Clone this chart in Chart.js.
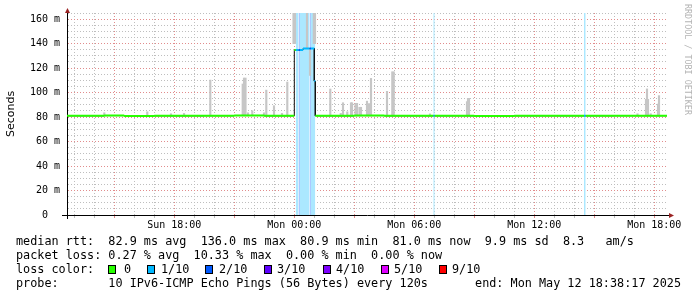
<!DOCTYPE html>
<html><head><meta charset="utf-8">
<script src="https://cdn.jsdelivr.net/npm/chart.js@4.4.1/dist/chart.umd.min.js"></script>
<style>
html,body{margin:0;padding:0;background:#fff;width:697px;height:297px;overflow:hidden}
#wrap{position:relative;width:697px;height:297px}
canvas{position:absolute;left:0;top:0}
.t{position:absolute;font-family:'DejaVu Sans Mono',monospace;font-size:11.8px;line-height:14px;white-space:pre;color:#000}
.box{position:absolute;width:6px;height:7px;border:1px solid #000}
#rrd{position:absolute;left:683px;top:4px;writing-mode:vertical-rl;font-family:'DejaVu Sans Mono',monospace;font-size:8.4px;color:#b4b4b4;white-space:pre;line-height:10px}
</style></head><body>
<div id="wrap">
<canvas id="c" width="697" height="297"></canvas>
<div id="rrd">RRDTOOL / TOBI OETIKER</div>
<div class="t" style="left:16px;top:234px">median rtt:  82.9 ms avg  136.0 ms max  80.9 ms min  81.0 ms now  9.9 ms sd  8.3   am/s</div>
<div class="t" style="left:16px;top:248px">packet loss: 0.27 % avg  10.33 % max  0.00 % min  0.00 % now</div>
<div class="t" style="left:16px;top:262px">loss color:</div>
<div class="t" style="left:16px;top:276px">probe:       10 IPv6-ICMP Echo Pings (56 Bytes) every 120s</div>
<div class="t" style="right:16px;top:276px">end: Mon May 12 18:38:17 2025</div>
<div id="lossLegend"></div>
</div>
<script>
// ---- time axis (hours since Sun 00:00) ----
const xStart = 12.638, xEnd = 42.638;
const xGridHours = [13,14,15,16,17,18,19,20,21,22,23,24,25,26,27,28,29,30,31,32,33,34,35,36,37,38,39,40,41,42];
const xTickHours = [18,24,30,36,42];
const xTickLabels = ['Sun 18:00','Mon 00:00','Mon 06:00','Mon 12:00','Mon 18:00'];
// ---- value axis (ms) ----
const yMax = 165;
const yGridValues = [0,5,10,15,20,25,30,35,40,45,50,55,60,65,70,75,80,85,90,95,100,105,110,115,120,125,130,135,140,145,150,155,160,165];
const yTickValues = [0,20,40,60,80,100,120,140,160];
const yTickLabels = ['0  ','20 m','40 m','60 m','80 m','100 m','120 m','140 m','160 m'];

// ---- loss levels ----
const lossLevels = [0,1,2,3,4,5,9];
const lossNames  = ['0','1/10','2/10','3/10','4/10','5/10','9/10'];
const lossColors = ['#26ff00','#00b8ff','#0059ff','#5e00ff','#7e00ff','#dd00ff','#ff0000'];

// ---- median rtt segments (start hour, ms, loss tenths) ----
const medStart = [12.638,14.5,15.5,17.0,19.5,21.0,22.5,24.003,24.073,24.213,24.288,24.438,24.763,24.838,25.003,25.053,27.0,28.5,30.953,31.023,33.0,35.0,38.488,38.573,40.0];
const medValue = [81.0,81.2,80.9,81.0,81.1,81.3,81.0,134.7,134.7,134.7,134.7,136.0,136.0,136.0,109.4,81.0,81.2,81.0,81.0,81.0,80.9,81.0,81.0,81.0,81.1];
const medLoss  = [0,0,0,0,0,0,0,0,1,2,1,1,2,1,1,0,0,0,1,0,0,0,1,0,0];

// ---- packet loss intervals ----
const lossStart  = [24.073,24.213,24.288,24.763,24.838,30.953,38.488];
const lossEnd    = [24.213,24.288,24.763,24.838,25.053,31.023,38.573];
const lossTenths = [1,2,1,2,1,1,1];

// ---- smoke (min..max rtt spread) ----
const smokeTime = [14.503,16.653,17.838,18.488,19.803,21.423,21.488,21.563,21.688,21.903,22.488,22.603,22.988,23.388,23.653,
  23.963,24.038,24.638,24.788,24.978,25.038,
  25.803,26.328,26.438,26.653,26.838,26.888,27.063,27.138,27.263,27.338,27.638,27.738,27.838,28.638,28.903,28.973,
  30.788,32.638,32.688,32.738,41.163,41.588,41.638,41.688,41.823,42.188,42.238];
const smokeLow  = [81,81,81,81,81,81,81,81,81,81,81,81,81,81,81,
  140,140,136,114,140,140,
  81,81,81,81,81,81,81,81,81,81,81,81,81,81,81,81,
  81,81,81,81,81,81,81,81,81,81,81];
const smokeHigh = [83.5,84.3,82.7,83.0,110.2,107.0,111.9,111.9,83.5,85.2,83.5,102.0,89.3,83.0,108.6,
  165,165,165,136,165,165,
  102.9,83.0,91.7,84.3,91.7,91.7,91.2,91.2,88.0,88.0,93.0,91.0,111.6,101.0,117.0,117.0,
  82.6,92.6,95.3,95.3,82.7,94.5,103.0,94.5,82.7,90.6,97.5];

function tint(hex, a){
  const n = parseInt(hex.slice(1),16), r=n>>16, g=(n>>8)&255, b=n&255;
  const m = c => Math.round(255 - (255-c)*a);
  return `rgb(${m(r)},${m(g)},${m(b)})`;
}
const RED_GRID = 'rgb(225,140,140)', GRAY_GRID = 'rgb(190,190,190)';

const datasets = [];
// loss background
lossLevels.forEach((lv, k) => {
  const pts = [];
  lossStart.forEach((s, i) => {
    if (lossTenths[i] !== lv) return;
    pts.push({x:s, y:yMax}, {x:lossEnd[i], y:yMax}, {x:lossEnd[i], y:null});
  });
  if (pts.length) datasets.push({type:'line', data:pts, fill:'origin', borderWidth:0,
    backgroundColor:tint(lossColors[k],0.33), pointRadius:0, spanGaps:false, order:10});
});
// smoke
datasets.push({type:'bar', data:smokeTime.map((t,i)=>({x:t, y:[smokeLow[i], smokeHigh[i]]})),
  backgroundColor:'#c6c6c6', borderWidth:0, barThickness:1.5, grouped:false, order:8});
// black median
const blackPts = [];
medStart.forEach((s,i)=>{ const e = i+1<medStart.length ? medStart[i+1] : xEnd;
  blackPts.push({x:s,y:medValue[i]},{x:e,y:medValue[i]}); });
datasets.push({type:'line', data:blackPts, borderColor:'#111', borderWidth:1, pointRadius:0, fill:false, order:6});
// coloured median by loss
lossLevels.forEach((lv,k)=>{
  const pts = [];
  medStart.forEach((s,i)=>{
    if (medLoss[i] !== lv) return;
    const e = i+1<medStart.length ? medStart[i+1] : xEnd;
    pts.push({x:s,y:medValue[i]},{x:e,y:medValue[i]},{x:e,y:null});
  });
  if (pts.length) datasets.push({type:'line', data:pts, borderColor:lossColors[k], borderWidth:2,
    pointRadius:0, fill:false, spanGaps:false, order:4});
});

const arrows = {id:'arrows', afterDraw(chart){
  const {ctx, chartArea:a} = chart;
  const yb = a.bottom + 0.5, xl = a.left + 0.5;
  ctx.save();
  ctx.strokeStyle = '#000'; ctx.lineWidth = 1;
  ctx.beginPath();
  ctx.moveTo(a.left-5, yb); ctx.lineTo(a.left, yb);
  ctx.moveTo(a.right, yb); ctx.lineTo(670, yb);
  ctx.moveTo(xl, a.top); ctx.lineTo(xl, 10);
  ctx.moveTo(xl, a.bottom); ctx.lineTo(xl, a.bottom+4);
  ctx.stroke();
  ctx.fillStyle = '#9b2323';
  ctx.beginPath(); ctx.moveTo(xl, 8); ctx.lineTo(xl-2.5, 13); ctx.lineTo(xl+2.5, 13); ctx.closePath(); ctx.fill();
  ctx.beginPath(); ctx.moveTo(674, yb); ctx.lineTo(669, yb-2.5); ctx.lineTo(669, yb+2.5); ctx.closePath(); ctx.fill();
  ctx.restore();
}};

new Chart(document.getElementById('c'), {
  type:'line',
  data:{datasets},
  options:{
    responsive:false, animation:false, devicePixelRatio:1,
    layout:{padding:{top:13,right:30,left:0,bottom:0}},
    plugins:{legend:{display:false}, tooltip:{enabled:false}},
    elements:{point:{radius:0}},
    scales:{
      x:{type:'linear', min:xStart, max:xEnd, offset:false,
        afterFit(s){ s.height = 82; },
        afterBuildTicks(s){ s.ticks = xGridHours.map(v=>({value:v})); },
        ticks:{autoSkip:false, maxRotation:0, padding:1, color:'#000',
          font:{family:'DejaVu Sans Mono', size:10},
          callback(v){ const i = xTickHours.indexOf(v); return i>=0 ? xTickLabels[i] : ''; }},
        grid:{offset:false, lineWidth:1, tickLength:3,
          color(c){ return c.tick && c.tick.value % 3 === 0 ? RED_GRID : GRAY_GRID; }},
        border:{display:true, color:'#000', width:1, dash:[1,2]}
      },
      y:{type:'linear', min:0, max:yMax,
        afterFit(s){ s.width = 67; },
        afterBuildTicks(s){ s.ticks = yGridValues.map(v=>({value:v})); },
        ticks:{autoSkip:false, padding:7, color:'#000',
          font:{family:'DejaVu Sans Mono', size:10},
          callback(v){ const i = yTickValues.indexOf(v); return i>=0 ? yTickLabels[i] : ''; }},
        grid:{drawTicks:false, lineWidth:1,
          color(c){ return c.tick && c.tick.value % 20 === 0 ? RED_GRID : GRAY_GRID; }},
        border:{display:true, color:'#000', width:1, dash:[1,2]},
        title:{display:true, text:'Seconds', color:'#000', padding:{top:5,bottom:0},
          font:{family:'DejaVu Sans', size:11}}
      }
    }
  },
  plugins:[arrows]
});

// loss colour legend
const boxX  = [108,147,205,264,323,381,439];
const textX = [124,161,219,277,336,394,452];
const lg = document.getElementById('lossLegend');
lossLevels.forEach((lv,k)=>{
  const b = document.createElement('div'); b.className='box';
  b.style.left = boxX[k]+'px'; b.style.top = '265px'; b.style.background = lossColors[k];
  lg.appendChild(b);
  const t = document.createElement('div'); t.className='t';
  t.style.left = textX[k]+'px'; t.style.top = '262px'; t.textContent = lossNames[k];
  lg.appendChild(t);
});
</script>
</body></html>
